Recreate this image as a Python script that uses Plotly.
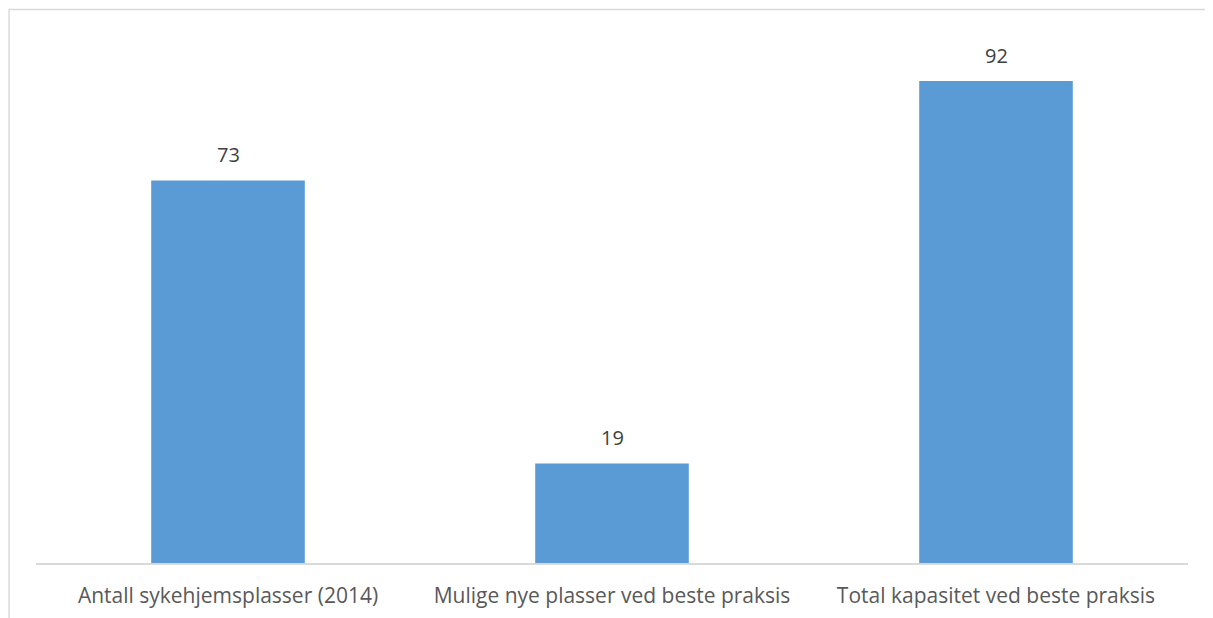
import plotly.graph_objects as go

categories = ["Antall sykehjemsplasser (2014)", "Mulige nye plasser ved beste praksis", "Total kapasitet ved beste praksis"]
values = [73, 19, 92]

fig = go.Figure(go.Bar(
    x=categories, y=values,
    marker=dict(color="#5B9BD5", line=dict(width=0)),
    cliponaxis=False,
))
for c, v in zip(categories, values):
    fig.add_annotation(x=c, y=v, text=str(v), showarrow=False, yanchor="bottom",
                       yshift=10, font=dict(family="Open Sans", size=20, color="#404040"))
fig.update_layout(
    width=1197, height=610,
    margin=dict(l=28, r=17, t=31, b=55, autoexpand=False),
    paper_bgcolor="white", plot_bgcolor="white",
    bargap=0.6, showlegend=False,
    xaxis=dict(showline=True, linecolor="#d9d9d9", linewidth=1.5, ticks="", ticklabelstandoff=13,
               automargin=False,
               tickfont=dict(family="Open Sans", size=21, color="#595959"), showgrid=False),
    yaxis=dict(range=[0, 100], visible=False, showgrid=False, automargin=False),
    shapes=[
        dict(type="line", xref="paper", yref="paper", x0=-0.0234, x1=1.05, y0=1.0563, y1=1.0563,
             line=dict(color="#d9d9d9", width=1.5)),
        dict(type="line", xref="paper", yref="paper", x0=-0.0234, x1=-0.0234, y0=1.0563, y1=-0.2,
             line=dict(color="#d9d9d9", width=1.5)),
    ],
)
fig.write_html("out.html")
